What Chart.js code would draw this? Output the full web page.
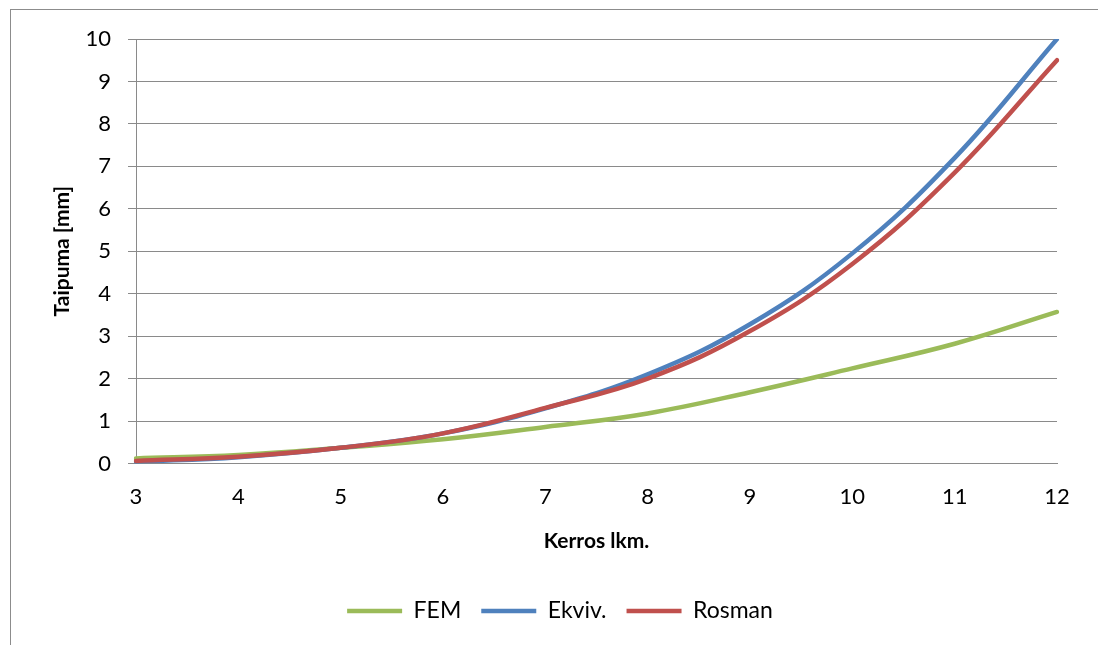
<!DOCTYPE html>
<html>
<head>
<meta charset="utf-8">
<script src="https://cdn.jsdelivr.net/npm/chart.js@4/dist/chart.umd.min.js"></script>
<style>
  html, body { margin: 0; padding: 0; background: #fff; }
  #wrap { position: relative; width: 1098px; height: 645px; overflow: hidden; }
  #frame { position: absolute; left: 10px; top: 9px; width: 1200px; height: 800px;
           border-left: 1px solid #8c8c8c; border-top: 1px solid #8c8c8c; box-sizing: border-box; }
  canvas { position: absolute; left: 0; top: 0; }
</style>
</head>
<body>
<div id="wrap">
  <div id="frame"></div>
  <canvas id="c" width="1098" height="645"></canvas>
</div>
<script>
// Storey count on the horizontal axis
const floors = ['3', '4', '5', '6', '7', '8', '9', '10', '11', '12'];
// Deflection [mm] per method
const fem    = [0.12, 0.20, 0.37, 0.57, 0.86, 1.18, 1.68, 2.24, 2.82, 3.57];
const ekviv  = [0.04, 0.15, 0.37, 0.71, 1.30, 2.10, 3.28, 4.95, 7.20, 10.0];
const rosman = [0.06, 0.16, 0.37, 0.71, 1.31, 2.00, 3.12, 4.70, 6.85, 9.50];
const yTicks = [0, 1, 2, 3, 4, 5, 6, 7, 8, 9, 10];

const font = 'Lato, "Open Sans", sans-serif';
const gridGray = '#8a8a8a';

function series(label, data, color, order) {
  return {
    label, data, order,
    borderColor: color, backgroundColor: color,
    borderWidth: 4.5, borderCapStyle: 'round', borderJoinStyle: 'round',
    pointRadius: 0, pointHoverRadius: 0, tension: 0.4, fill: false
  };
}

new Chart(document.getElementById('c'), {
  type: 'line',
  data: {
    labels: floors,
    datasets: [
      series('FEM', fem, '#9BBB59', 2),
      series('Ekviv.', ekviv, '#4F81BD', 1),
      series('Rosman', rosman, '#C0504D', 0)
    ]
  },
  options: {
    responsive: false,
    animation: false,
    layout: { padding: { top: 39, right: 41, bottom: 12.5, left: 63 } },
    plugins: {
      tooltip: { enabled: false },
      legend: {
        position: 'bottom',
        labels: {
          usePointStyle: true,
          pointStyle: 'line',
          pointStyleWidth: 55,
          padding: 20,
          color: '#000',
          font: { family: font, size: 23 },
          sort: (a, b) => a.datasetIndex - b.datasetIndex
        }
      }
    },
    scales: {
      x: {
        offset: false,
        grid: { display: false, drawTicks: false },
        border: { display: true, color: gridGray, width: 1 },
        ticks: { color: '#000', font: { family: font, size: 22 }, padding: 20, maxRotation: 0, autoSkip: false },
        title: { display: true, text: 'Kerros lkm.', color: '#000',
                 font: { family: font, size: 21, weight: 'bold' }, padding: { top: 0, bottom: 25.9 } },
        afterFit: (s) => { s.height = 116; }
      },
      y: {
        min: 0, max: 10,
        afterBuildTicks: (s) => { s.ticks = yTicks.map(v => ({ value: v })); },
        grid: { color: gridGray, lineWidth: 1, drawTicks: true, tickLength: 8, tickColor: gridGray },
        border: { display: true, color: gridGray, width: 1 },
        ticks: { color: '#000', font: { family: font, size: 22 }, padding: 17 },
        title: { display: true, text: 'Taipuma [mm]', color: '#000',
                 font: { family: font, size: 21, weight: 'bold' }, padding: { top: -13.6, bottom: 0 } },
        afterFit: (s) => { s.width = 73; }
      }
    }
  }
});
</script>
</body>
</html>
